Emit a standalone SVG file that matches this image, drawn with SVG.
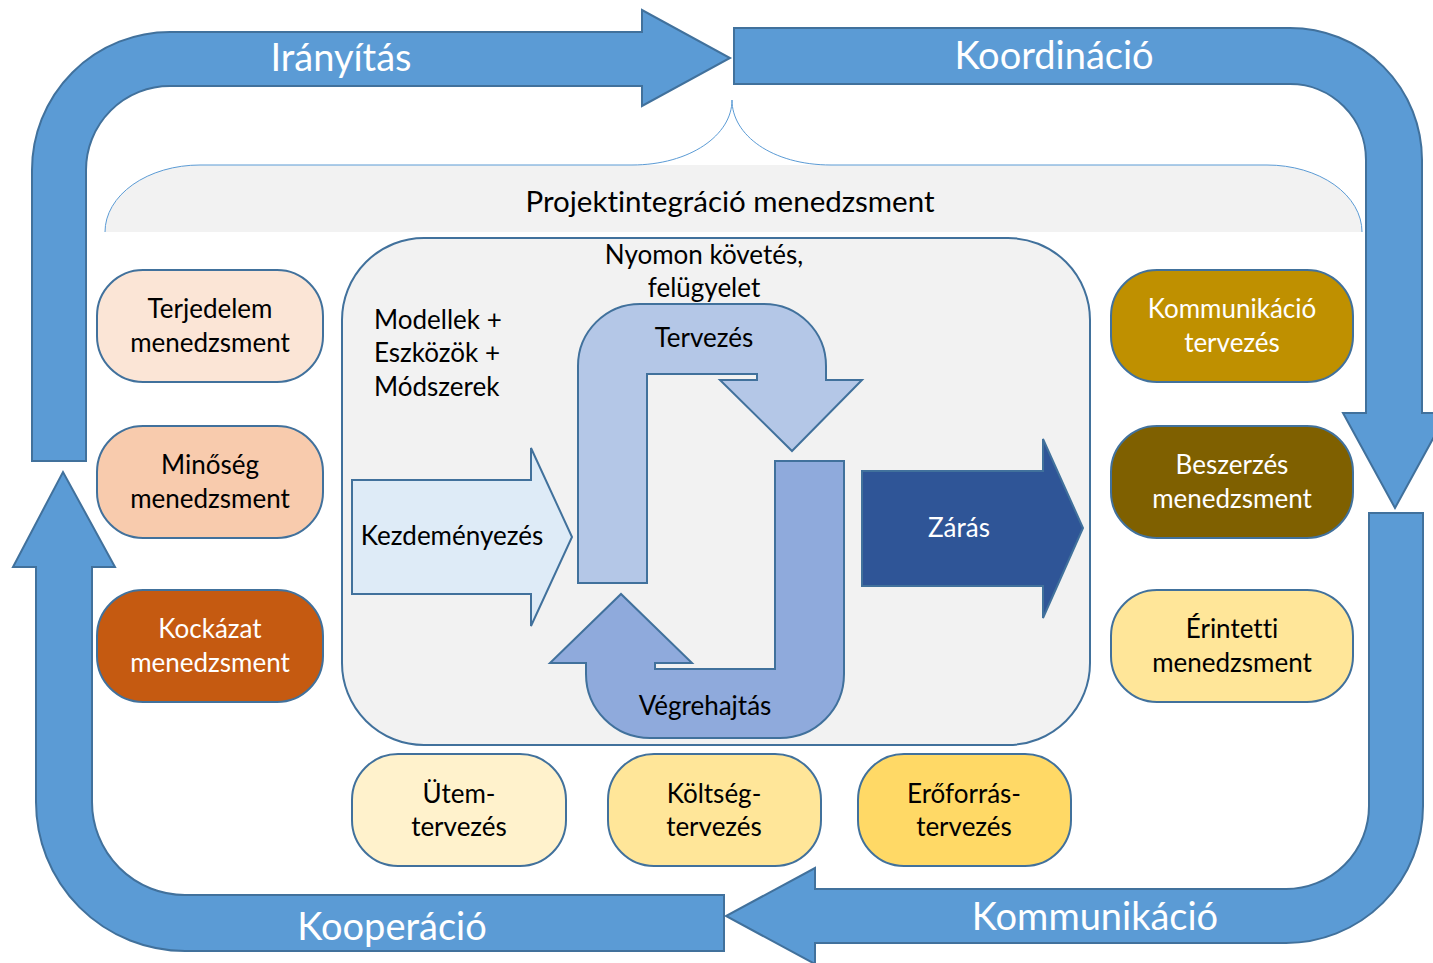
<svg xmlns="http://www.w3.org/2000/svg" width="1433" height="963" viewBox="0 0 1433 963">
<style>
.big{fill:#5b9bd5;stroke:#41719c;stroke-width:2;stroke-linejoin:miter}
.bt{font-family:Lato,"Liberation Sans",sans-serif;font-size:38px;fill:#fff;text-anchor:middle;dominant-baseline:central}
.t{font-family:Lato,"Liberation Sans",sans-serif;font-size:26px;fill:#000;text-anchor:middle;dominant-baseline:central;font-variant-ligatures:none}
.w{fill:#fff}
.node{stroke:#41719c;stroke-width:2}
.in{stroke:#41719c;stroke-width:2;stroke-linejoin:miter}
</style>
<rect width="1433" height="963" fill="#fff"/>
<g id="connectors">
<path class="big" d="M32,461 L32,170 A138,138 0 0 1 170,32 L642,32 L642,10 L730,58 L642,106 L642,86 L170,86 A84,84 0 0 0 86,170 L86,461 Z"/>
<path class="big" d="M734,28 L1290,28 A132,132 0 0 1 1422,160 L1422,413 L1447,413 L1395,508 L1343,413 L1366,413 L1366,160 A76,76 0 0 0 1290,84 L734,84 Z"/>
<path class="big" d="M1369,513 L1423,513 L1423,806 A137,137 0 0 1 1286,943 L815,943 L815,964 L726,916 L815,868 L815,889 L1286,889 A83,83 0 0 0 1369,806 Z"/>
<path class="big" d="M724,895 L724,951 L185,951 A149,149 0 0 1 36,802 L36,567 L13,567 L63,472 L115,567 L92,567 L92,802 A93,93 0 0 0 185,895 Z"/>
<text class="bt" x="341" y="56">Irányítás</text>
<text class="bt" x="1054" y="54">Koordináció</text>
<text class="bt" x="1095" y="915">Kommunikáció</text>
<text class="bt" x="392" y="925">Kooperáció</text>
</g>
<g id="brace">
<path d="M105,232 A95,67 0 0 1 200,165 L1267,165 A95,67 0 0 1 1362,232 Z" fill="#f2f2f2"/>
<path d="M105,232 A95,67 0 0 1 200,165 L632,165 C690,165 732,135 732,100 C732,135 772,165 831,165 L1267,165 A95,67 0 0 1 1362,232" fill="none" stroke="#5b9bd5" stroke-width="1"/>
<text class="t" x="730" y="200" style="font-size:29.5px">Projektintegráció menedzsment</text>
</g>
<g id="center">
<rect x="342" y="238" width="748" height="507" rx="82" ry="82" fill="#f2f2f2" stroke="#41719c" stroke-width="2"/>
<text class="t" x="704" y="254">Nyomon követés,</text>
<text class="t" x="704" y="287">felügyelet</text>
<text class="t" x="374" y="319" style="text-anchor:start">Modellek +</text>
<text class="t" x="374" y="352" style="text-anchor:start">Eszközök +</text>
<text class="t" x="374" y="386" style="text-anchor:start">Módszerek</text>
</g>
<g id="tervezes">
<path class="in" fill="#b4c7e7" d="M578,583 L578,366 A62,62 0 0 1 640,304 L764,304 A62,62 0 0 1 826,366 L826,380 L862,380 L792,451 L720,380 L757,380 L757,374 L647,374 L647,583 Z"/>
<text class="t" x="704" y="337">Tervezés</text>
</g>
<g id="vegrehajtas">
<path class="in" fill="#8faadc" d="M775,461 L844,461 L844,674 A64,64 0 0 1 780,738 L650,738 A64,64 0 0 1 586,674 L586,663 L550,663 L621,594 L692,663 L655,663 L655,669 L775,669 Z"/>
<text class="t" x="705" y="705">Végrehajtás</text>
</g>
<g id="kezdemenyezes">
<path class="in" fill="#deebf7" d="M352,480 L531,480 L531,448 L572,537 L531,626 L531,594 L352,594 Z"/>
<text class="t" x="452" y="535">Kezdeményezés</text>
</g>
<g id="zaras">
<path class="in" fill="#2f5597" d="M862,471 L1043,471 L1043,439 L1083,528 L1043,618 L1043,586 L862,586 Z"/>
<text class="t w" x="959" y="527">Zárás</text>
</g>
<g id="terjedelem">
<rect class="node" x="97" y="270" width="226" height="112" rx="46" fill="#fbe5d6"/>
<text class="t" x="210" y="308">Terjedelem</text><text class="t" x="210" y="342">menedzsment</text>
</g>
<g id="minoseg">
<rect class="node" x="97" y="426" width="226" height="112" rx="46" fill="#f8cbad"/>
<text class="t" x="210" y="464">Minőség</text><text class="t" x="210" y="498">menedzsment</text>
</g>
<g id="kockazat">
<rect class="node" x="97" y="590" width="226" height="112" rx="46" fill="#c55a11"/>
<text class="t w" x="210" y="628">Kockázat</text><text class="t w" x="210" y="662">menedzsment</text>
</g>
<g id="kommunikacio-tervezes">
<rect class="node" x="1111" y="270" width="242" height="112" rx="46" fill="#bf9000"/>
<text class="t w" x="1232" y="308">Kommunikáció</text><text class="t w" x="1232" y="342">tervezés</text>
</g>
<g id="beszerzes">
<rect class="node" x="1111" y="426" width="242" height="112" rx="46" fill="#7f6000"/>
<text class="t w" x="1232" y="464">Beszerzés</text><text class="t w" x="1232" y="498">menedzsment</text>
</g>
<g id="erintetti">
<rect class="node" x="1111" y="590" width="242" height="112" rx="46" fill="#ffe699"/>
<text class="t" x="1232" y="628">Érintetti</text><text class="t" x="1232" y="662">menedzsment</text>
</g>
<g id="utem">
<rect class="node" x="352" y="754" width="214" height="112" rx="46" fill="#fff2cc"/>
<text class="t" x="459" y="793">Ütem-</text><text class="t" x="459" y="826">tervezés</text>
</g>
<g id="koltseg">
<rect class="node" x="608" y="754" width="213" height="112" rx="46" fill="#ffe699"/>
<text class="t" x="714" y="793">Költség-</text><text class="t" x="714" y="826">tervezés</text>
</g>
<g id="eroforras">
<rect class="node" x="858" y="754" width="213" height="112" rx="46" fill="#ffd966"/>
<text class="t" x="964" y="793">Erőforrás-</text><text class="t" x="964" y="826">tervezés</text>
</g>
</svg>
